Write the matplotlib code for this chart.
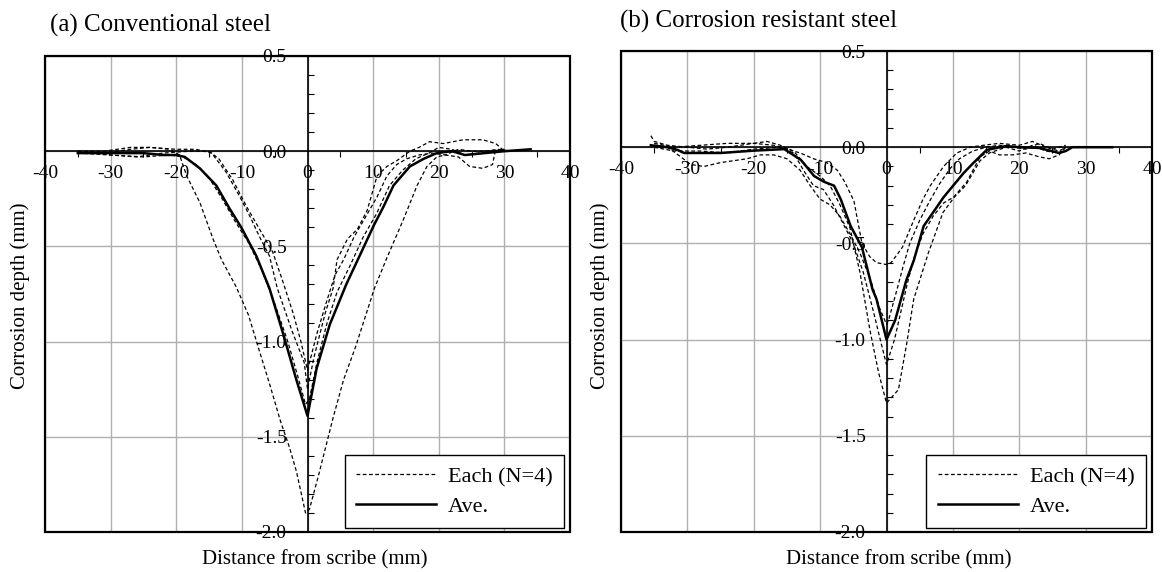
import matplotlib
matplotlib.use('Agg')
import matplotlib.pyplot as plt
from matplotlib.patches import Rectangle
from matplotlib.ticker import MultipleLocator, FormatStrFormatter

plt.rcParams['font.family'] = ['Liberation Serif', 'DejaVu Serif']
plt.rcParams['axes.unicode_minus'] = False

# (a) Conventional steel -- average profile
ave_a_x = [-35, -30, -25, -22, -20, -18.7, -16.4, -13.9, -11.9, -10.1, -7.8, -5.8, -3.7, -1.7, 0,
           1.4, 3.4, 5.9, 7.8, 10.1, 11.6, 13.1, 15.6, 17.7, 19.7, 22, 24, 27, 30, 34]
ave_a_y = [-0.01, -0.01, -0.01, -0.02, -0.02, -0.03, -0.09, -0.18, -0.30, -0.40, -0.55, -0.72, -0.96, -1.2, -1.39,
           -1.14, -0.91, -0.70, -0.56, -0.39, -0.29, -0.18, -0.08, -0.04, -0.01, 0.0, -0.02, -0.01, 0.0, 0.01]

# (a) individual specimens
a1_x = [-35, -31, -27, -24, -21, -19.5, -18.4, -16.4, -14.4, -13.1, -10.9, -9, -7.5, -5.8, -4.1, -2.8, -1.7, -0.3,
        0.3, 1.7, 3.9, 5.5, 7.3, 8.8, 10.2, 12.1, 14.6, 16.7, 18.2, 19.7, 21, 23, 24.7, 26.7, 28.2, 28.6, 30]
a1_y = [0.0, -0.01, 0.01, 0.02, 0.01, -0.02, -0.13, -0.27, -0.46, -0.57, -0.71, -0.86, -1.03, -1.22, -1.42, -1.55, -1.68, -1.9,
        -1.88, -1.7, -1.4, -1.2, -1.03, -0.87, -0.72, -0.56, -0.36, -0.18, -0.08, -0.03, -0.02, -0.03, -0.08, -0.09, -0.07, 0.0, 0.01]

a2_x = [-35, -30, -25, -21, -19, -17, -15, -13, -11, -9, -7, -5, -3, -1.5, -0.3,
        0.3, 1.5, 3, 4.5, 6.5, 8.5, 10.5, 12.5, 14.5, 16.5, 18.5, 20, 22, 24, 26, 28, 30]
a2_y = [0.0, -0.02, -0.03, -0.02, -0.03, -0.07, -0.14, -0.25, -0.37, -0.48, -0.62, -0.80, -1.0, -1.18, -1.33,
        -1.3, -1.1, -0.9, -0.74, -0.6, -0.45, -0.33, -0.18, -0.1, -0.04, -0.01, 0.02, 0.01, -0.02, -0.01, 0.0, 0.01]

a3_x = [-35, -31, -27, -24, -20, -17, -14.6, -12.4, -10.3, -8.8, -7.3, -5.8, -4.6, -2.4, -0.5, 0,
        1, 2.7, 3.9, 4.5, 6.1, 7.6, 9.1, 10.6, 12.1, 13.6, 15.6, 17, 18.6, 20.7, 23.7, 26.7, 28.7, 30]
a3_y = [0.0, 0.0, 0.02, 0.02, 0.01, 0.01, -0.01, -0.11, -0.24, -0.34, -0.45, -0.55, -0.72, -0.94, -1.11, -1.25,
        -1.08, -0.85, -0.72, -0.57, -0.46, -0.41, -0.31, -0.13, -0.08, -0.05, 0.0, 0.02, 0.05, 0.04, 0.06, 0.06, 0.04, 0.0]

a4_x = [-35, -30, -26, -22, -18, -15, -13.5, -11.4, -9.3, -7.3, -5.3, -3.8, -2.2, -1, 0,
        1.5, 3, 4.2, 5.5, 7.1, 8.6, 10.6, 12.1, 13.6, 15.1, 17, 19, 21, 23, 25, 27, 29, 31]
a4_y = [-0.01, -0.02, -0.03, -0.01, 0.0, 0.0, -0.04, -0.15, -0.29, -0.41, -0.53, -0.68, -0.85, -1.0, -1.15,
        -0.95, -0.78, -0.65, -0.57, -0.45, -0.36, -0.24, -0.13, -0.07, -0.04, -0.02, -0.01, -0.02, 0.01, 0.0, 0.0, 0.01, 0.0]

# (b) Corrosion resistant steel -- average profile
ave_b_x = [-35.5, -33, -31.5, -30.5, -25, -20, -15.4, -12.9, -10.9, -9.4, -7.9, -6.9, -5.4, -3.7, -2.1, -1.5, 0,
           1.3, 3.0, 4.1, 5.6, 8.6, 11.6, 13, 15.1, 18, 20, 23, 26, 27, 28, 30, 34]
ave_b_y = [0.01, 0.0, -0.014, -0.03, -0.03, -0.018, -0.01, -0.066, -0.15, -0.18, -0.20, -0.27, -0.41, -0.52, -0.74, -0.79, -1.0,
           -0.9, -0.69, -0.59, -0.41, -0.26, -0.135, -0.085, -0.014, 0.006, 0.0, -0.004, -0.03, -0.02, 0.0, 0.0, 0.0]

# (b) individual specimens
b1_x = [-35.5, -35, -33, -30, -27, -24, -20, -17, -15, -13, -11, -9, -7.4, -6.3, -4.9, -3.7, -2.5, -1.5, 0,
        0.7, 2.4, 4.1, 5.5, 6.6, 8.6, 10.6, 12.6, 14.6, 17, 20, 22, 24, 26, 27]
b1_y = [0.06, 0.03, 0.01, 0.0, -0.01, 0.0, 0.02, 0.01, -0.01, -0.03, -0.06, -0.08, -0.12, -0.18, -0.28, -0.5, -0.57, -0.6, -0.61,
        -0.6, -0.52, -0.38, -0.27, -0.2, -0.1, -0.03, 0.0, 0.01, 0.02, 0.01, 0.03, 0.0, -0.02, 0.0]

b2_x = [-35, -33, -31, -29.5, -27.5, -25, -23, -21, -19, -17, -15, -13, -11.5, -10, -8.5, -7, -5.5, -4, -2.5, -1, 0,
        0.3, 1.5, 2.5, 3.5, 5, 6.5, 8, 9.6, 11, 13, 15, 17, 19, 21, 23, 25, 27]
b2_y = [0.01, 0.0, -0.05, -0.09, -0.1, -0.08, -0.07, -0.06, -0.04, -0.04, -0.06, -0.12, -0.2, -0.27, -0.3, -0.36, -0.45, -0.55, -0.68, -0.84, -0.92,
        -0.9, -0.75, -0.62, -0.5, -0.38, -0.28, -0.19, -0.11, -0.06, -0.02, 0.0, 0.01, 0.0, -0.01, 0.02, -0.01, 0.01]

b3_x = [-35, -32, -28, -24, -20, -16, -14, -12.5, -11, -9.5, -8, -6.5, -5, -3.5, -2, -0.8, 0,
        1.2, 2.2, 3.2, 4.2, 5.5, 7, 8.6, 10.1, 12.1, 14.1, 15.5, 17, 19, 21, 23, 24.5, 26, 27]
b3_y = [0.0, -0.02, -0.02, -0.03, -0.01, 0.0, -0.03, -0.12, -0.2, -0.22, -0.3, -0.4, -0.5, -0.65, -0.85, -1.02, -1.13,
        -1.0, -0.85, -0.7, -0.57, -0.45, -0.36, -0.29, -0.26, -0.18, -0.05, -0.02, -0.04, -0.04, -0.03, -0.05, -0.06, -0.04, 0.0]

b4_x = [-35, -32, -28, -24, -20, -18, -16, -14, -12, -10, -8.5, -7, -5.5, -4, -2.5, -1.2, 0,
        1.8, 3.0, 4.1, 6.3, 8.5, 10.2, 11.9, 14.1, 15.5, 18, 20, 22, 24, 26, 27]
b4_y = [0.02, 0.0, 0.01, 0.02, 0.02, 0.03, 0.01, -0.02, -0.1, -0.15, -0.2, -0.3, -0.42, -0.65, -0.95, -1.17, -1.33,
        -1.26, -1.03, -0.79, -0.55, -0.34, -0.26, -0.2, -0.07, -0.03, 0.0, -0.02, 0.01, -0.02, -0.03, 0.0]

titles = ['(a) Conventional steel', '(b) Corrosion resistant steel']
x_label = 'Distance from scribe (mm)'
y_label = 'Corrosion depth (mm)'
legend_labels = ['Each (N=4)', 'Ave.']

W, H = 1162, 572
fig = plt.figure(figsize=(W / 100, H / 100), dpi=100)


def px_box(left, top, right, bottom):
    return [left / W, 1 - bottom / H, (right - left) / W, (bottom - top) / H]


ax_a = fig.add_axes(px_box(45, 56, 570, 532))
ax_b = fig.add_axes(px_box(621, 51, 1152, 532))

panels = [
    (ax_a, [(a1_x, a1_y), (a2_x, a2_y), (a3_x, a3_y), (a4_x, a4_y)], (ave_a_x, ave_a_y)),
    (ax_b, [(b1_x, b1_y), (b2_x, b2_y), (b3_x, b3_y), (b4_x, b4_y)], (ave_b_x, ave_b_y)),
]

for ax, each, ave in panels:
    ax.set_xlim(-40, 40)
    ax.set_ylim(-2.0, 0.5)

    # axes crossing at the origin, with a separate outer frame
    ax.spines['left'].set_position(('data', 0))
    ax.spines['bottom'].set_position(('data', 0))
    ax.spines['top'].set_visible(False)
    ax.spines['right'].set_visible(False)
    for s in ['left', 'bottom']:
        ax.spines[s].set_linewidth(1.2)
        ax.spines[s].set_zorder(4)
    ax.add_patch(Rectangle((0, 0), 1, 1, transform=ax.transAxes, fill=False,
                           lw=1.6, edgecolor='black', zorder=6, clip_on=False))

    ax.xaxis.set_major_locator(MultipleLocator(10))
    ax.xaxis.set_minor_locator(MultipleLocator(5))
    ax.yaxis.set_major_locator(MultipleLocator(0.5))
    ax.yaxis.set_minor_locator(MultipleLocator(0.1))
    ax.yaxis.set_major_formatter(FormatStrFormatter('%.1f'))
    ax.xaxis.set_major_formatter(FormatStrFormatter('%d'))
    ax.tick_params(axis='x', which='major', length=0, pad=10, labelsize=14)
    ax.tick_params(axis='x', which='minor', length=4, direction='out', width=0.8)
    ax.tick_params(axis='y', which='major', length=0, pad=15, labelsize=14)
    ax.tick_params(axis='y', which='minor', length=4, direction='in', width=0.8)

    ax.grid(True, which='major', color='#b0b0b0', lw=1.0)
    ax.set_axisbelow(True)

    for i, (ex, ey) in enumerate(each):
        ax.plot(ex, ey, color='black', lw=0.9, linestyle=(0, (3, 2)),
                label=legend_labels[0] if i == 0 else None, zorder=3)
    ax.plot(ave[0], ave[1], color='black', lw=1.8, label=legend_labels[1], zorder=5)

    leg = ax.legend(loc='lower right', bbox_to_anchor=(0.988, 0.009), borderaxespad=0,
                    fontsize=16, handlelength=3.6, fancybox=False, framealpha=1,
                    borderpad=0.5, labelspacing=0.4, handletextpad=0.55)
    leg.get_frame().set_edgecolor('black')
    leg.get_frame().set_linewidth(1.0)
    leg.set_zorder(7)

fig.text(50 / W, 1 - 25 / H, titles[0], fontsize=18, va='center', ha='left')
fig.text(620 / W, 1 - 21 / H, titles[1], fontsize=18, va='center', ha='left')
fig.text(315 / W, 1 - 560 / H, x_label, fontsize=15, va='center', ha='center')
fig.text(899 / W, 1 - 560 / H, x_label, fontsize=15, va='center', ha='center')
fig.text(20 / W, 1 - 296 / H, y_label, fontsize=15, va='center', ha='center', rotation=90)
fig.text(600 / W, 1 - 296 / H, y_label, fontsize=15, va='center', ha='center', rotation=90)

fig.savefig('out.png', dpi=100)
